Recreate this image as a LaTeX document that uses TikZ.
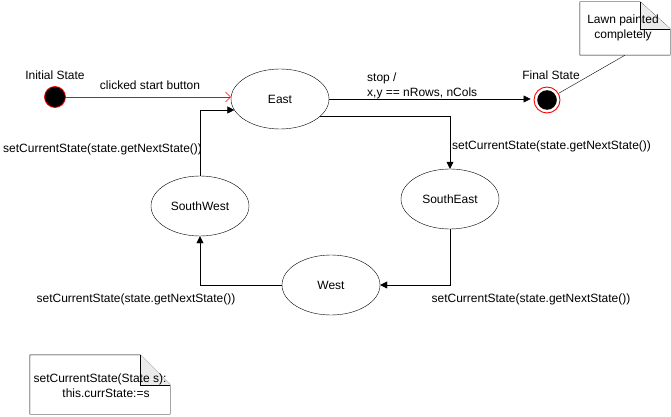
\documentclass[tikz,border=0pt]{standalone}
\usepackage{fontspec}
\setmainfont{Liberation Sans}
\usetikzlibrary{shapes.geometric,arrows.meta,calc}
\begin{document}
\begin{tikzpicture}[x=1pt,y=-1pt,
  every node/.style={font=\fontsize{12}{15}\selectfont, inner sep=0},
  stnode/.style={ellipse, draw, minimum width=98, minimum height=60},
  blk/.style={-{Triangle[length=7,width=7]}},
]
\useasboundingbox (0,0) rectangle (671,417);
% states
\node[circle, draw=red, fill=black, minimum size=21, line width=0.8] (init) at (55,97) {};
\node (initlbl) at (55,75) {Initial State};
\node[stnode] (east) at (280,99) {East};
\node[circle, draw=red, fill=white, minimum size=26, line width=0.9,
  path picture={\fill[black] (path picture bounding box.center) circle (9.8pt);}] (final) at (547,100) {};
\node (finallbl) at (551,75) {Final State};
\node[stnode] (se) at (450,199) {SouthEast};
\node[stnode] (west) at (331,285) {West};
\node[stnode] (sw) at (200,206) {SouthWest};
% notes
\node[minimum width=90, minimum height=53] (n1) at (625,28.5) {};
\draw (n1.north west) -- ([xshift=-30pt]n1.north east) -- ([yshift=-27pt]n1.north east) -- (n1.south east) -- (n1.south west) -- cycle;
\filldraw[fill=black!8] ([xshift=-30pt]n1.north east) -- ([xshift=-30pt,yshift=-27pt]n1.north east) -- ([yshift=-27pt]n1.north east);
\node[align=center] (n1txt) at (623,28) {Lawn painted\\completely};
\node[minimum width=140, minimum height=59] (n2) at (100,384.5) {};
\draw (n2.north west) -- ([xshift=-30pt]n2.north east) -- ([yshift=-30pt]n2.north east) -- (n2.south east) -- (n2.south west) -- cycle;
\filldraw[fill=black!8] ([xshift=-30pt]n2.north east) -- ([xshift=-30pt,yshift=-30pt]n2.north east) -- ([yshift=-30pt]n2.north east);
\node[align=center] (n2txt) at (100,385.5) {setCurrentState(State s):\\\hspace*{12pt}this.currState:=s};
\draw (n1.south) -- (final);
% connectors
\draw[red, -{Straight Barb[length=5,width=10]}] (init) -- (init -| east.west);
\node (l1) at (150,85) {clicked start button};
\draw[blk, shorten >=3pt] (east.east) -- (east.east -| final.west);
\node[anchor=west, align=left] (l2) at (367,85.5) {stop /\\x,y == nRows, nCols};
\draw[blk] ($(east.center)+(40.4,17)$) -| (se.north);
\node[anchor=west] (l3) at (452,146) {setCurrentState(state.getNextState())};
\draw[blk] (se.south) |- (west.east);
\node (l4) at (531,299) {setCurrentState(state.getNextState())};
\draw[blk] (west.west) -| (sw.south);
\node (l5) at (136,299) {setCurrentState(state.getNextState())};
\draw[blk] (sw.north) |- ($(east.center)+(-45.6,11)$);
\node[anchor=west] (l6) at (3,149) {setCurrentState(state.getNextState())};
\end{tikzpicture}
\end{document}
